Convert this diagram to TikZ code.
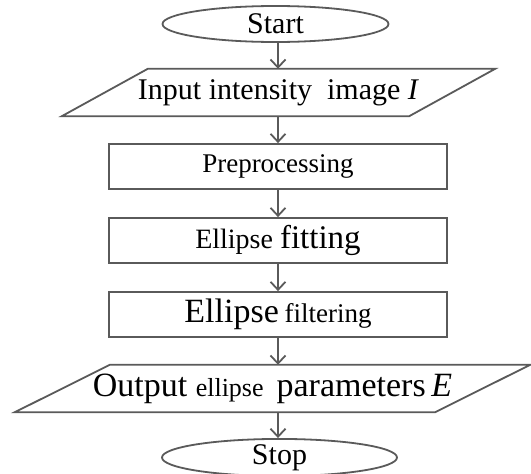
\documentclass[tikz,border=0pt]{standalone}
\usepackage{fontspec}
\setmainfont{Liberation Serif}
\usetikzlibrary{shapes.geometric,arrows.meta}
\definecolor{ln}{RGB}{90,90,90}
\newcommand\fsz[1]{\fontsize{#1}{#1}\selectfont}
\begin{document}
\begin{tikzpicture}[x=1pt,y=-1pt,
  box/.style={draw=ln,line width=1.8pt,minimum width=338pt,minimum height=45pt,inner sep=0pt,font=\fsz{28}},
  term/.style={ellipse,draw=ln,line width=1.8pt,inner sep=0pt,font=\fsz{30}},
  io/.style={minimum height=47pt,inner sep=0pt},
  para/.style={draw=ln,line width=1.8pt,line join=miter},
  arr/.style={draw=ln,line width=1.8pt,-{Straight Barb[length=8pt,width=15pt]}}]
\fill[white] (0,0) rectangle (531,474);
\useasboundingbox (0,0) rectangle (531,474);
\coordinate (ax) at (278,0);
\node[term,minimum width=226pt,minimum height=36pt] (start) at (275.5,24) {Start};
\node[io,minimum width=347pt] (in) at (278.5,92.5) {\fsz{30}Input intensity \ image \textit{I}};
\draw[para] ([xshift=-43pt]in.south west) -- ([xshift=43pt]in.north west) -- ([xshift=43pt]in.north east) -- ([xshift=-43pt]in.south east) -- cycle;
\node[box] (pre) at (278,166.5) {\fsz{27}Preprocessing};
\node[box] (fit) at (278,240.5) {\fsz{28}Ellipse \fsz{33}fitting};
\node[box] (filt) at (278,314.5) {\fsz{34}Ellipse\,\fsz{27}filtering};
\node[io,minimum width=420pt] (out) at (272.5,388.5) {\fsz{34}Output \fsz{26}ellipse \ \fsz{34}parameters\,\textit{E}};
\draw[para] ([xshift=-47.5pt]out.south west) -- ([xshift=47.5pt]out.north west) -- ([xshift=47.5pt]out.north east) -- ([xshift=-47.5pt]out.south east) -- cycle;
\node[term,minimum width=235pt,minimum height=31pt] (stop) at (279.5,457.5) {Stop};
\draw[arr] (start.south -| ax) -- (in.north -| ax);
\draw[arr] (in.south -| ax) -- (pre.north -| ax);
\draw[arr] (pre.south -| ax) -- (fit.north -| ax);
\draw[arr] (fit.south -| ax) -- (filt.north -| ax);
\draw[arr] (filt.south -| ax) -- (out.north -| ax);
\draw[arr] (out.south -| ax) -- (stop.north -| ax);
\end{tikzpicture}
\end{document}
